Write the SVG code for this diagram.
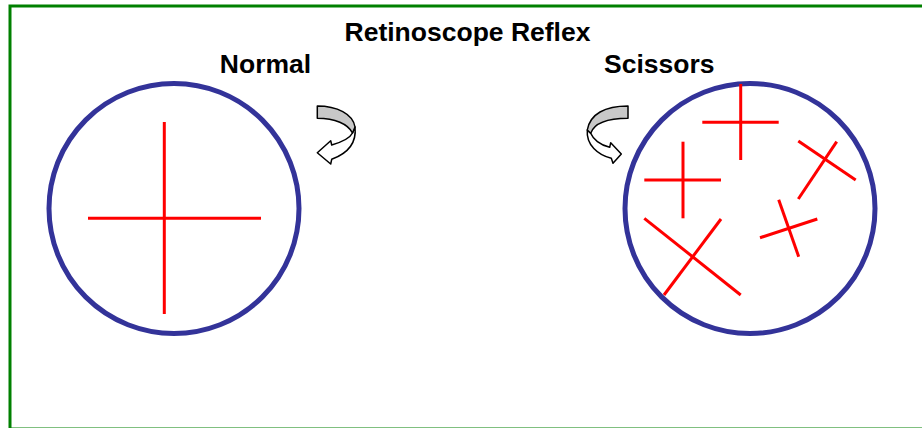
<svg xmlns="http://www.w3.org/2000/svg" width="922" height="428" viewBox="0 0 922 428">
<style>
.t{font-family:"Liberation Sans",Arial,sans-serif;font-weight:bold;fill:#000;font-size:26.5px;}
.pupil{fill:none;stroke:#333399;stroke-width:5;}
.r{stroke:#ff0000;stroke-width:3;fill:none;}
.g{fill:#c8c8c8;stroke:#000;stroke-width:1.5;stroke-linejoin:round;}
.w{fill:#fff;stroke:#000;stroke-width:1.5;stroke-linejoin:round;}
</style>
<rect x="10" y="6" width="930" height="423" fill="none" stroke="#008000" stroke-width="3"/>
<text class="t" x="467.5" y="41" text-anchor="middle">Retinoscope Reflex</text>
<g id="normal">
<text class="t" x="265.5" y="73" text-anchor="middle">Normal</text>
<circle class="pupil" cx="174" cy="208.5" r="125"/>
<line class="r" x1="164.3" y1="122" x2="164.3" y2="314"/>
<line class="r" x1="88" y1="218.3" x2="261" y2="218.3"/>
</g>
<g id="arrow-left">
<path class="w" d="M355,127 C357,145 346,154 331.7,159.3 L330.7,164 L317.3,152.7 L330.7,140.7 L331.7,145 C342,142 350,138 352.5,133 Z"/>
<path class="g" d="M317.3,106 C337,106 353,114 355,127 L352.5,133 C348,124 335,118.3 317.3,118.3 Z"/>
</g>
<g id="arrow-right">
<path class="w" d="M587.3,130 C586,145 598,155 611.3,158.3 L613,163.3 L621.3,154 L610.7,142.7 L609.7,147.3 C600,145 593,139 590.7,133.3 Z"/>
<path class="g" d="M628,106 C605,106 590,114 587.3,130 L590.7,133.3 C594,124 605,118.3 628,118.3 Z"/>
</g>
<g id="scissors">
<text class="t" x="604" y="73">Scissors</text>
<circle class="pupil" cx="750" cy="208.5" r="125"/>
<line class="r" x1="740.7" y1="84" x2="740.7" y2="160"/>
<line class="r" x1="702.3" y1="122.3" x2="778.7" y2="122.3"/>
<line class="r" x1="683" y1="141.7" x2="683" y2="218.3"/>
<line class="r" x1="644.3" y1="180" x2="721" y2="180"/>
<line class="r" x1="798.3" y1="141" x2="855.7" y2="180"/>
<line class="r" x1="836.7" y1="141.7" x2="798.3" y2="199"/>
<line class="r" x1="760" y1="237.7" x2="817.3" y2="219"/>
<line class="r" x1="778.7" y1="199.7" x2="798.7" y2="256.7"/>
<line class="r" x1="644.3" y1="218.3" x2="740.7" y2="295"/>
<line class="r" x1="721" y1="219" x2="664" y2="295"/>
</g>
</svg>
